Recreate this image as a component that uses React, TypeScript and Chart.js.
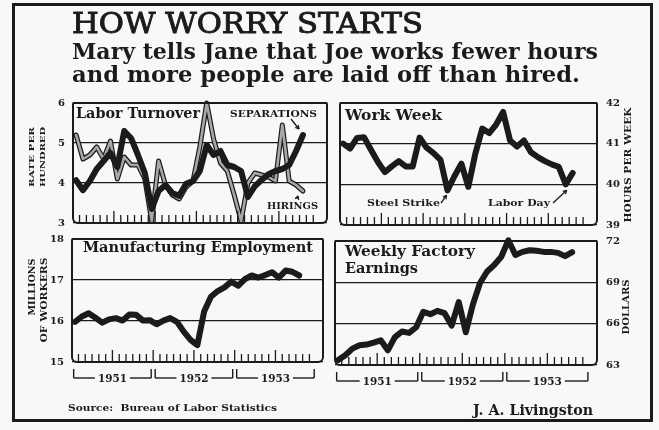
import React, { useEffect, useRef } from "react";
import { Chart, registerables } from "chart.js";

Chart.register(...registerables);

const W = 659;
const H = 430;
const INK = "#1b1b1b";
const PAPER = "#f8f8f6";
const HOLLOW = "#a8a8a8";
const SERIF = "'DejaVu Serif', serif";
const AW = 26;

// ---- data (monthly, Jan 1951 = index 0) ----
const monthNames = ["Jan", "Feb", "Mar", "Apr", "May", "Jun", "Jul", "Aug", "Sep", "Oct", "Nov", "Dec"];
const years = ["1951", "1952", "1953"];
const months = years.flatMap((y) => monthNames.map((m) => `${m} ${y}`));

const separations = [
  4.07, 3.82, 4.05, 4.35, 4.55, 4.75, 4.4, 5.3, 5.12, 4.7, 4.25, 3.35,
  3.8, 3.95, 3.75, 3.68, 3.98, 4.05, 4.3, 4.95, 4.7, 4.8, 4.45, 4.4,
  4.3, 3.65, 3.92, 4.08, 4.22, 4.3, 4.35, 4.45, 4.8, 5.2,
];
const hirings = [
  5.2, 4.6, 4.7, 4.9, 4.6, 5.05, 4.1, 4.65, 4.45, 4.45, 4.1, 3.05,
  4.55, 3.95, 3.7, 3.6, 3.9, 4.05, 4.9, 6.0, 5.1, 4.5, 4.3, 3.7,
  3.05, 4.0, 4.25, 4.2, 4.15, 4.05, 5.45, 4.05, 3.95, 3.8,
];
const workWeek = [
  41.0, 40.88, 41.14, 41.16, 40.85, 40.55, 40.3, 40.44, 40.57, 40.44, 40.44, 41.15,
  40.9, 40.77, 40.6, 39.85, 40.2, 40.51, 39.94, 40.75, 41.37, 41.26, 41.47, 41.78,
  41.08, 40.93, 41.08, 40.79, 40.67, 40.57, 40.49, 40.43, 40.0, 40.28,
];
const mfgEmployment = [
  15.98, 16.11, 16.19, 16.08, 15.96, 16.04, 16.07, 16.01, 16.16, 16.15, 16.01, 16.02,
  15.92, 16.01, 16.07, 15.98, 15.74, 15.54, 15.41, 16.23, 16.59, 16.73, 16.82, 16.96,
  16.86, 17.02, 17.11, 17.06, 17.12, 17.19, 17.06, 17.23, 17.2, 17.11,
];
const weeklyEarnings = [
  63.36, 63.71, 64.19, 64.43, 64.48, 64.62, 64.79, 64.07, 65.02, 65.43, 65.33, 65.74,
  66.86, 66.69, 66.93, 66.76, 65.86, 67.57, 65.38, 67.4, 68.95, 69.79, 70.26, 70.86,
  72.05, 70.98, 71.21, 71.33, 71.29, 71.21, 71.21, 71.14, 70.9, 71.19,
];

const turnoverTicks = [3, 4, 5, 6];
const workWeekTicks = [39, 40, 41, 42];
const employmentTicks = [15, 16, 17, 18];
const earningsTicks = [63, 66, 69, 72];

// ---- helpers ----
function fitText(ctx, text, x, y, w, size, opts: any = {}) {
  const { weight = "bold", align = "left", rotate = false, baseline = "alphabetic", stroke = 0 } = opts;
  ctx.save();
  ctx.font = `${weight} ${size}px ${SERIF}`;
  ctx.fillStyle = INK;
  ctx.strokeStyle = INK;
  ctx.textBaseline = baseline;
  ctx.textAlign = "left";
  const m = ctx.measureText(text).width;
  ctx.translate(x, y);
  if (rotate) ctx.rotate(-Math.PI / 2);
  ctx.scale(w / m, 1);
  const ox = align === "center" ? -m / 2 : 0;
  ctx.fillText(text, ox, 0);
  if (stroke > 0) {
    ctx.lineWidth = stroke;
    ctx.strokeText(text, ox, 0);
  }
  ctx.restore();
}

function line(ctx, x1, y1, x2, y2) {
  ctx.beginPath();
  ctx.moveTo(x1, y1);
  ctx.lineTo(x2, y2);
  ctx.stroke();
}

function arrow(ctx, x1, y1, x2, y2) {
  ctx.save();
  ctx.strokeStyle = INK;
  ctx.lineWidth = 1.3;
  line(ctx, x1, y1, x2, y2);
  const ang = Math.atan2(y2 - y1, x2 - x1);
  const L = 4;
  line(ctx, x2, y2, x2 - L * Math.cos(ang - 0.5), y2 - L * Math.sin(ang - 0.5));
  line(ctx, x2, y2, x2 - L * Math.cos(ang + 0.5), y2 - L * Math.sin(ang + 0.5));
  ctx.restore();
}

const headlinePlugin = {
  id: "headline",
  afterDraw(chart) {
    const ctx = chart.ctx;
    ctx.save();
    ctx.strokeStyle = INK;
    ctx.lineWidth = 3;
    ctx.strokeRect(13.5, 4.5, 638, 416);
    ctx.restore();
    fitText(ctx, "HOW WORRY STARTS", 72, 33, 351, 28, { weight: "normal", stroke: 0.9 });
    fitText(ctx, "Mary tells Jane that Joe works fewer hours", 72, 59, 526, 22);
    fitText(ctx, "and more people are laid off than hired.", 72, 82, 508, 22);
    fitText(ctx, "Source:  Bureau of Labor Statistics", 68, 411, 209, 10);
    fitText(ctx, "J. A. Livingston", 473, 415, 120, 15);
  },
};

function makeDecor(p) {
  return {
    id: "decor" + p.key,
    afterDraw(chart) {
      const { ctx, chartArea: a, scales } = chart;
      const xs = scales.x;
      const ys = scales.y;
      ctx.save();
      ctx.strokeStyle = INK;
      ctx.lineWidth = 2;
      ctx.beginPath();
      ctx.roundRect(a.left, a.top, a.right - a.left, a.bottom - a.top, [1, 1, 5, 5]);
      ctx.stroke();
      ctx.lineWidth = 1.3;
      for (let k = 1; k < months.length; k++) {
        const x = xs.getPixelForValue(k - 0.5);
        const h = k % 6 === 0 ? 12 : 8;
        line(ctx, x, a.bottom - 1, x, a.bottom - h);
      }
      if (p.brackets) {
        const yl = a.bottom + 16;
        years.forEach((yr, i) => {
          const x0 = xs.getPixelForValue(12 * i - 0.5) + 2;
          const x1 = xs.getPixelForValue(12 * i + 11.5) - 2;
          const cx = (x0 + x1) / 2;
          const tw = 29;
          ctx.lineWidth = 1.4;
          line(ctx, x0, yl - 9, x0, yl);
          line(ctx, x0, yl, cx - tw / 2 - 3, yl);
          line(ctx, cx + tw / 2 + 3, yl, x1, yl);
          line(ctx, x1, yl - 9, x1, yl);
          fitText(ctx, yr, cx, yl + 4, tw, 11, { align: "center" });
        });
      }
      ctx.restore();
      p.labels.forEach((l) => fitText(ctx, l.text, l.x, l.y, l.w, l.size));
      p.vlabels.forEach((l) =>
        fitText(ctx, l.text, l.x, l.y, l.w, l.size, { rotate: true, align: "center", baseline: "middle" })
      );
      p.arrows.forEach((ar) => {
        const tx = xs.getPixelForValue(ar.idx) + ar.dx;
        const ty = ys.getPixelForValue(ar.val) + ar.dy;
        arrow(ctx, ar.x, ar.y, tx, ty);
      });
    },
  };
}

const panels = [
  {
    key: "turnover",
    box: { L: 73, T: 103, R: 327, B: 223 },
    axis: "left",
    ticks: turnoverTicks,
    series: [
      { values: separations, color: INK, width: 6 },
      { values: hirings, color: HOLLOW, width: 2.6 },
      { values: hirings, color: INK, width: 5 },
    ],
    brackets: false,
    labels: [
      { text: "Labor Turnover", x: 76, y: 118, w: 124, size: 14 },
      { text: "SEPARATIONS", x: 230, y: 117, w: 87, size: 10 },
      { text: "HIRINGS", x: 267, y: 209, w: 51, size: 10 },
    ],
    vlabels: [
      { text: "RATE PER", x: 32, y: 157, w: 60, size: 8 },
      { text: "HUNDRED", x: 43, y: 157, w: 60, size: 8 },
    ],
    arrows: [
      { x: 291, y: 119, idx: 33, val: separations[33], dx: -4, dy: -6 },
      { x: 297, y: 199, idx: 33, val: hirings[33], dx: -5, dy: 5 },
    ],
  },
  {
    key: "week",
    box: { L: 340, T: 103, R: 597, B: 225 },
    axis: "right",
    ticks: workWeekTicks,
    series: [{ values: workWeek, color: INK, width: 6 }],
    brackets: false,
    labels: [
      { text: "Work Week", x: 345, y: 120, w: 97, size: 14 },
      { text: "Steel Strike", x: 367, y: 206, w: 73, size: 10 },
      { text: "Labor Day", x: 488, y: 206, w: 62, size: 10 },
    ],
    vlabels: [{ text: "HOURS PER WEEK", x: 628, y: 165, w: 115, size: 10 }],
    arrows: [
      { x: 441, y: 203, idx: 15, val: workWeek[15], dx: -1, dy: 5 },
      { x: 553, y: 203, idx: 32, val: workWeek[32], dx: 1, dy: 6 },
    ],
  },
  {
    key: "employment",
    box: { L: 72, T: 239, R: 323, B: 362 },
    axis: "left",
    ticks: employmentTicks,
    series: [{ values: mfgEmployment, color: INK, width: 6 }],
    brackets: true,
    labels: [{ text: "Manufacturing Employment", x: 83, y: 252, w: 230, size: 14 }],
    vlabels: [
      { text: "MILLIONS", x: 33, y: 287, w: 57, size: 9 },
      { text: "OF WORKERS", x: 45, y: 300, w: 85, size: 9 },
    ],
    arrows: [],
  },
  {
    key: "earnings",
    box: { L: 335, T: 241, R: 597, B: 365 },
    axis: "right",
    ticks: earningsTicks,
    series: [{ values: weeklyEarnings, color: INK, width: 6 }],
    brackets: true,
    labels: [
      { text: "Weekly Factory", x: 345, y: 256, w: 130, size: 14 },
      { text: "Earnings", x: 345, y: 273, w: 73, size: 14 },
    ],
    vlabels: [{ text: "DOLLARS", x: 626, y: 307, w: 55, size: 10 }],
    arrows: [],
  },
];

function makeConfig(p, withHeadline) {
  const b = p.box;
  const padding =
    p.axis === "left"
      ? { left: b.L - AW, top: b.T, right: W - b.R, bottom: H - b.B }
      : { left: b.L, top: b.T, right: W - b.R - AW, bottom: H - b.B };
  const t = p.ticks;
  const plugins: any[] = [makeDecor(p)];
  if (withHeadline) plugins.push(headlinePlugin);
  return {
    type: "line",
    data: {
      datasets: p.series.map((s) => ({
        data: s.values.map((v, i) => ({ x: i, y: v })),
        borderColor: s.color,
        borderWidth: s.width,
        pointRadius: 0,
        tension: 0,
        fill: false,
        clip: false,
        borderJoinStyle: "round",
        borderCapStyle: "round",
      })),
    },
    options: {
      responsive: false,
      animation: false,
      events: [],
      layout: { padding },
      plugins: { legend: { display: false }, tooltip: { enabled: false } },
      scales: {
        x: { type: "linear", min: -0.45, max: 36.5, display: false },
        y: {
          type: "linear",
          position: p.axis,
          min: t[0],
          max: t[t.length - 1],
          ticks: {
            stepSize: t[1] - t[0],
            font: { family: SERIF, weight: "bold", size: 10 },
            color: INK,
            padding: p.axis === "left" ? 8 : 9,
          },
          grid: { color: INK, lineWidth: 1.3, drawTicks: false },
          border: { display: false },
          afterFit: (s) => {
            s.width = AW;
          },
        },
      },
    },
    plugins,
  };
}

export default function App() {
  const r0 = useRef<HTMLCanvasElement>(null);
  const r1 = useRef<HTMLCanvasElement>(null);
  const r2 = useRef<HTMLCanvasElement>(null);
  const r3 = useRef<HTMLCanvasElement>(null);
  const refs = [r0, r1, r2, r3];

  useEffect(() => {
    const charts = panels.map((p, i) => new Chart(refs[i].current as any, makeConfig(p, i === 0) as any));
    return () => charts.forEach((c) => c.destroy());
  }, []);

  return (
    <div
      style={{
        position: "fixed",
        left: 0,
        top: 0,
        width: W,
        height: H,
        background: PAPER,
        overflow: "hidden",
      }}
    >
      {panels.map((p, i) => (
        <canvas
          key={p.key}
          ref={refs[i]}
          width={W}
          height={H}
          style={{ position: "absolute", left: 0, top: 0 }}
        />
      ))}
    </div>
  );
}
